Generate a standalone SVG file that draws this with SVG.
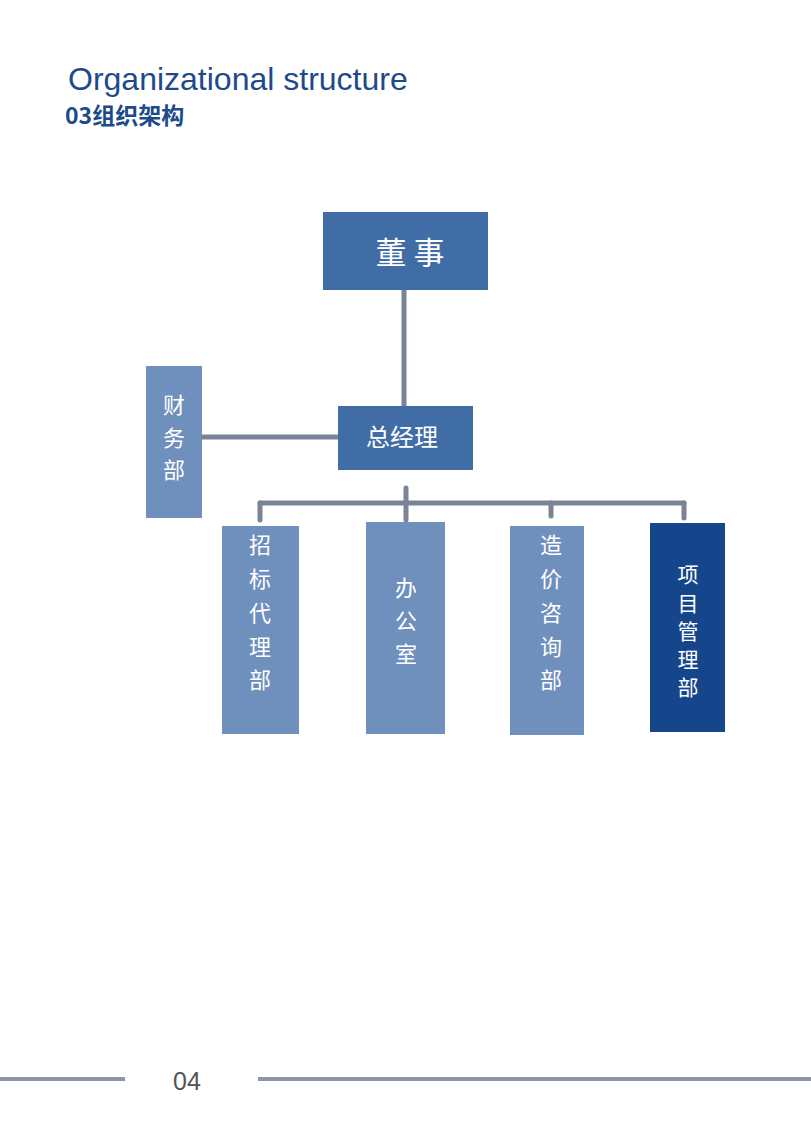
<svg xmlns="http://www.w3.org/2000/svg" width="811" height="1136" viewBox="0 0 811 1136">
<style>
.n{fill:#6f8fbd}.d{fill:#416da6}.k{fill:#15468c}
.t{font-family:"Noto Sans CJK SC",sans-serif;fill:#fff;font-size:22px;text-anchor:middle}
.c{stroke:#7b8496;stroke-width:5;fill:none;stroke-linecap:round}
</style>
<rect width="811" height="1136" fill="#fff"/>
<text x="68" y="90" font-family="Liberation Sans,sans-serif" font-size="32" fill="#1d4b8a">Organizational structure</text>
<text x="65" y="124" font-family="Noto Sans CJK SC,sans-serif" font-size="23" font-weight="bold" fill="#1d4b8a">03组织架构</text>
<g id="connectors" class="c">
<line x1="404" y1="290" x2="404" y2="406"/>
<line x1="202" y1="437" x2="338" y2="437"/>
<line x1="260" y1="503" x2="684" y2="503"/>
<line x1="406" y1="488" x2="406" y2="520"/>
<line x1="260" y1="503" x2="260" y2="520"/>
<line x1="551" y1="503" x2="551" y2="516"/>
<line x1="684" y1="503" x2="684" y2="518"/>
</g>
<g id="board"><rect class="d" x="323" y="212" width="165" height="78"/><text class="t" x="410" y="264" style="font-size:31px">董 事</text></g>
<g id="gm"><rect class="d" x="338" y="406" width="135" height="64"/><text class="t" x="402" y="446" style="font-size:24px">总经理</text></g>
<g id="finance"><rect class="n" x="146" y="366" width="56" height="152"/><text class="t" x="174" y="413">财</text><text class="t" x="174" y="446">务</text><text class="t" x="174" y="478">部</text></g>
<g id="bid"><rect class="n" x="222" y="526" width="77" height="208"/><text class="t" x="260" y="553">招</text><text class="t" x="260" y="587">标</text><text class="t" x="260" y="621">代</text><text class="t" x="260" y="655">理</text><text class="t" x="260" y="688">部</text></g>
<g id="office"><rect class="n" x="366" y="522" width="79" height="212"/><text class="t" x="406" y="596">办</text><text class="t" x="406" y="629">公</text><text class="t" x="406" y="662">室</text></g>
<g id="cost"><rect class="n" x="510" y="526" width="74" height="209"/><text class="t" x="551" y="553">造</text><text class="t" x="551" y="587">价</text><text class="t" x="551" y="621">咨</text><text class="t" x="551" y="655">询</text><text class="t" x="551" y="688">部</text></g>
<g id="project"><rect class="k" x="650" y="523" width="75" height="209"/><g style="font-size:21px"><text class="t" x="688" y="582" style="font-size:21px">项</text><text class="t" x="688" y="611" style="font-size:21px">目</text><text class="t" x="688" y="639" style="font-size:21px">管</text><text class="t" x="688" y="667" style="font-size:21px">理</text><text class="t" x="688" y="695" style="font-size:21px">部</text></g></g>
<line x1="0" y1="1079" x2="125" y2="1079" stroke="#8e95a8" stroke-width="4"/>
<line x1="258" y1="1079" x2="811" y2="1079" stroke="#8e95a8" stroke-width="4"/>
<text x="187" y="1090" font-family="Liberation Sans,sans-serif" font-size="25" fill="#555" text-anchor="middle">04</text>
</svg>
